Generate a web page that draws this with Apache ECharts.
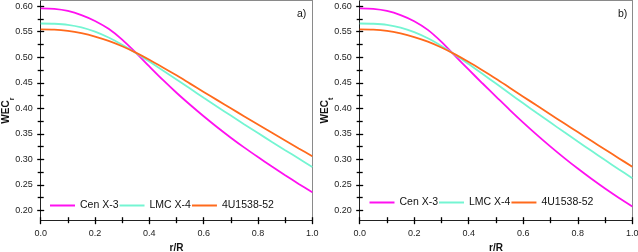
<!DOCTYPE html>
<html><head><meta charset="utf-8">
<script src="https://cdn.jsdelivr.net/npm/echarts@6/dist/echarts.min.js"></script>
<style>html,body{margin:0;padding:0;background:#fff}#c{width:638px;height:252px}</style>
</head><body><div id="c"></div>
<script>
const rVals = [0,0.05,0.1,0.15,0.2,0.25,0.3,0.35,0.4,0.45,0.5,0.55,0.6,0.65,0.7,0.75,0.8,0.85,0.9,0.95,1.0];
const seriesNames = ['Cen X-3','LMC X-4','4U1538-52'];
// panel a) WEC_r
const cenA = [0.5955,0.5945,0.5905,0.5825,0.571,0.5555,0.5345,0.509,0.482,0.4555,0.4305,0.407,0.3845,0.363,0.3425,0.323,0.3045,0.2865,0.269,0.252,0.2355];
const lmcA = [0.566,0.5655,0.5635,0.5585,0.55,0.5385,0.5245,0.5085,0.4915,0.474,0.4565,0.4386,0.4207,0.4031,0.3857,0.3685,0.3515,0.3347,0.3181,0.3017,0.2853];
const u4A  = [0.5545,0.554,0.5515,0.547,0.5405,0.532,0.5215,0.509,0.495,0.48,0.4645,0.4483,0.4321,0.416,0.4,0.3841,0.3683,0.3526,0.337,0.3215,0.3061];
// panel b) WEC_t
const cenB = [0.5955,0.5945,0.5905,0.5825,0.5705,0.5535,0.530,0.5025,0.4755,0.449,0.423,0.397,0.372,0.348,0.325,0.303,0.282,0.262,0.243,0.225,0.208];
const lmcB = [0.566,0.5655,0.5635,0.558,0.549,0.537,0.522,0.505,0.4865,0.4675,0.4485,0.429,0.4098,0.3908,0.372,0.3534,0.3349,0.3167,0.2986,0.2808,0.2632];
const u4B  = [0.5545,0.554,0.5515,0.5465,0.5395,0.5305,0.519,0.5055,0.4905,0.4745,0.458,0.4404,0.4228,0.4053,0.3879,0.3706,0.3534,0.3363,0.3193,0.3024,0.2856];
const yMajor = [0.20,0.25,0.30,0.35,0.40,0.45,0.50,0.55,0.60];
const yMinor = [0.225,0.275,0.325,0.375,0.425,0.475,0.525,0.575];
const yLabels = ['0.20','0.25','0.30','0.35','0.40','0.45','0.50','0.55','0.60'];
const panelTags = ['a)','b)'];
const yNames = ['r','t'];
const colors = ['#ff10f0','#74f5d2','#ff6a1c'];

const FONT = 'Liberation Sans, Arial, sans-serif';
const gridBase = {top:0.5, bottom:31.3, outerBoundsMode:'none', containLabel:false};
const grids = [
  Object.assign({left:40.7, right:325.7}, gridBase),
  Object.assign({left:359.7, right:5.7}, gridBase)
];
const xAxes = [], yAxes = [], series = [], legends = [], titles = [];
const panels = [[cenA,lmcA,u4A],[cenB,lmcB,u4B]];
const TC = '#000';
const TW = 1.3;
const YMIN = 0.18, YMAX = 0.611;
for (let g=0; g<2; g++){
  xAxes.push({type:'value', gridIndex:g, min:0, max:1, position:'bottom',
    name:'r/R', nameLocation:'middle', nameGap:23,
    nameTextStyle:{fontFamily:FONT, fontWeight:'bold', fontSize:10, color:'#111'},
    axisLine:{show:true, onZero:false, lineStyle:{color:'#222', width:1}},
    axisTick:{show:false}, axisLabel:{show:false}, splitLine:{show:false}});
  xAxes.push({type:'value', gridIndex:g, min:0, max:1, interval:0.2, position:'bottom', offset:-3.5,
    axisLine:{show:false, onZero:false},
    axisTick:{show:true, inside:false, length:7, lineStyle:{color:TC, width:TW}},
    minorTick:{show:true, splitNumber:2, length:6, lineStyle:{color:TC, width:TW}},
    axisLabel:{fontFamily:FONT, fontSize:9, color:'#222', margin:11.5, formatter:v=>v.toFixed(1)},
    splitLine:{show:false}, z:10});
  const xi = xAxes.length-1;
  xAxes.push({type:'value', gridIndex:g, min:0, max:1, position:'top',
    axisLine:{show:true, onZero:false, lineStyle:{color:'#8a8a8a', width:1}},
    axisTick:{show:false}, axisLabel:{show:false}, splitLine:{show:false}});
  yAxes.push({type:'value', gridIndex:g, min:YMIN, max:YMAX, position:'left',
    name:'WEC{s|'+yNames[g]+'}', nameLocation:'middle', nameGap:29,
    nameTextStyle:{fontFamily:FONT, fontWeight:'bold', fontSize:10, color:'#111',
      rich:{s:{fontFamily:FONT, fontWeight:'bold', fontSize:7, color:'#111', verticalAlign:'bottom', padding:[0,0,-4,0]}}},
    axisLine:{show:true, onZero:false, lineStyle:{color:'#222', width:1}},
    axisTick:{show:false}, axisLabel:{show:false}, splitLine:{show:false}});
  yAxes.push({type:'value', gridIndex:g, min:YMIN, max:YMAX, position:'left', offset:-3.5,
    axisLine:{show:false, onZero:false},
    axisTick:{show:true, inside:false, length:7, customValues:yMajor, lineStyle:{color:TC, width:TW}},
    axisLabel:{fontFamily:FONT, fontSize:9, color:'#222', margin:11.5, customValues:yMajor,
      formatter:v=>yLabels[yMajor.findIndex(m=>Math.abs(m-v)<1e-6)] ?? ''},
    splitLine:{show:false}, z:10});
  const yiMajor = yAxes.length-1;
  yAxes.push({type:'value', gridIndex:g, min:YMIN, max:YMAX, position:'left', offset:-3,
    axisLine:{show:false, onZero:false},
    axisTick:{show:true, inside:false, length:6, customValues:yMinor, lineStyle:{color:TC, width:TW}},
    axisLabel:{show:true, customValues:yMinor, fontSize:1, color:'rgba(0,0,0,0)', formatter:()=>''},
    splitLine:{show:false}, z:10});
  const yiMinor = yAxes.length-1;
  yAxes.push({type:'value', gridIndex:g, min:YMIN, max:YMAX, position:'right',
    axisLine:{show:true, onZero:false, lineStyle:{color:'#8a8a8a', width:1}},
    axisTick:{show:false}, axisLabel:{show:false}, splitLine:{show:false}});
  panels[g].forEach((arr,k)=>{
    series.push({type:'line', name:seriesNames[k], xAxisIndex:xi, yAxisIndex: k===1 ? yiMinor : yiMajor,
      smooth:0.3,
      showSymbol:false, lineStyle:{color:colors[k], width:1.8}, itemStyle:{color:colors[k]},
      data: rVals.map((r,i)=>[r,arr[i]]), z:3});
  });
  legends.push({left: g===0 ? 50 : 369.5, top: g===0 ? 200 : 197, orient:'horizontal', padding:0,
    itemWidth:25, itemHeight:2, itemGap:1, icon:'rect', data:seriesNames,
    textStyle:{fontFamily:FONT, fontSize:10.5, color:'#111'}});
  titles.push({text:panelTags[g], left: g===0 ? 297 : 618, top:9, padding:0,
    textStyle:{fontFamily:FONT, fontSize:10.5, fontWeight:'normal', color:'#111'}});
}
const chart = echarts.init(document.getElementById('c'), null, {renderer:'canvas'});
chart.setOption({animation:false, backgroundColor:'#fff', color:colors,
  grid:grids, xAxis:xAxes, yAxis:yAxes, series, legend:legends, title:titles});
</script></body></html>
